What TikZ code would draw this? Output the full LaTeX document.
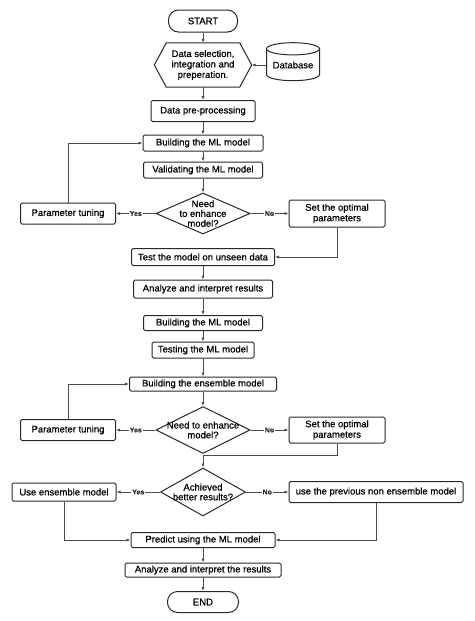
\documentclass[tikz,border=0pt]{standalone}
\usepackage{fontspec}
\setmainfont{Liberation Sans}[FakeBold=0.6]
\newfontfamily\semib{Liberation Sans}[FakeBold=0.6,UprightFont=*]
\usetikzlibrary{shapes.geometric,arrows.meta}
\definecolor{boxc}{RGB}{40,40,40}
\definecolor{linec}{RGB}{75,75,75}
\newcommand\mf{\fontsize{9.5}{10.5}\selectfont}
\newcommand\df{\fontsize{9.5}{9.8}\selectfont}
\newcommand\yf{\fontsize{7}{8}\selectfont\bfseries}
\begin{document}
\begin{tikzpicture}[x=1pt,y=-1pt,
 box/.style={draw=boxc,line width=1pt,rounded corners=1.5pt,fill=white,inner sep=0pt,align=center,font=\mf},
 term/.style={draw=boxc,line width=1pt,rounded corners=10pt,fill=white,inner sep=0pt,font=\mf},
 dec/.style={diamond,draw=boxc,line width=1pt,fill=white,inner sep=0pt},
 dtext/.style={align=center,font=\df,inner sep=0pt},
 arr/.style={draw=linec,line width=0.8pt,-{Latex[length=4pt,width=3.2pt]}},
 yn/.style={fill=white,inner sep=1pt,font=\yf,text=boxc},
]
\useasboundingbox (0,0) rectangle (474,621);
\fill[white] (0,0) rectangle (474,621);

\node[term,minimum width=69,minimum height=22] (start) at (203,21) {START};
\node[inner sep=0pt,minimum width=97,minimum height=44,align=center,font=\mf] (hex) at (203,65) {Data selection,\\integration and\\preperation.};
\draw[draw=boxc,line width=1pt] (hex.west) -- ([xshift=12pt]hex.north west) -- ([xshift=-12pt]hex.north east) -- (hex.east) -- ([xshift=-12pt]hex.south east) -- ([xshift=12pt]hex.south west) -- cycle;
\node[cylinder,shape border rotate=90,aspect=0.3,draw=boxc,line width=1pt,fill=white,minimum width=53,minimum height=38,inner sep=0pt,font=\mf] (db) at (293,65) {Database};

\node[box,minimum width=104,minimum height=21] (pre) at (203,111) {Data pre-processing};
\node[box,minimum width=120,minimum height=16] (b1) at (203,143) {Building the ML model};
\node[box,minimum width=119,minimum height=16] (v1) at (203,170) {Validating the ML model};
\node[dec,minimum width=94,minimum height=41,label={[dtext]center:{Need\\to enhance\\model?}}] (d1) at (203,213.5) {};
\node[box,minimum width=95,minimum height=21] (pt1) at (68,213.5) {Parameter tuning};
\node[box,minimum width=96,minimum height=27] (so1) at (337,213.5) {Set the optimal\\parameters};
\node[box,minimum width=143,minimum height=17] (test) at (203,257) {Test the model on unseen data};
\node[box,minimum width=139,minimum height=18] (an1) at (203,289) {Analyze and interpret results};
\node[box,minimum width=119,minimum height=15] (b2) at (203,323) {Building the ML model};
\node[box,minimum width=102,minimum height=16] (t2) at (203,350) {Testing the ML model};
\node[box,minimum width=147,minimum height=14] (ens) at (203,384) {Building the ensemble model};
\node[dec,minimum width=94,minimum height=47,label={[dtext]center:{Need to enhance\\model?}}] (d2) at (203,430) {};
\node[box,minimum width=95,minimum height=21] (pt2) at (68,430) {Parameter tuning};
\node[box,minimum width=96,minimum height=26] (so2) at (337,430) {Set the optimal\\parameters};
\node[dec,minimum width=85,minimum height=48,label={[dtext]center:{Achieved\\better results?}}] (d3) at (203,492) {};
\node[box,minimum width=104,minimum height=18] (use) at (64,492) {Use ensemble model};
\node[box,minimum width=174,minimum height=21] (prev) at (376,492) {use the previous non ensemble model};
\node[box,minimum width=144,minimum height=15] (pred) at (203,540) {Predict using the ML model};
\node[box,minimum width=156,minimum height=14] (an2) at (203,570) {Analyze and interpret the results};
\node[term,minimum width=71,minimum height=21] (end) at (203,602) {END};

\draw[arr] (start) -- (hex);
\draw[arr] (db.west) -- (hex.east);
\draw[arr] (hex) -- (pre);
\draw[arr] (pre) -- (b1);
\draw[arr] (b1) -- (v1);
\draw[arr] (v1) -- (d1);
\draw[arr] (d1) -- node[yn]{Yes} (pt1);
\draw[arr] (d1) -- node[yn]{No} (so1);
\draw[arr] (pt1.north) |- (b1.west);
\draw[arr] (so1.south) |- (test.east);
\draw[arr] (test) -- (an1);
\draw[arr] (an1) -- (b2);
\draw[arr] (b2) -- (t2);
\draw[arr] (t2) -- (ens);
\draw[arr] (ens) -- (d2);
\draw[arr] (d2) -- node[yn]{Yes} (pt2);
\draw[arr] (d2) -- node[yn]{No} (so2);
\draw[arr] (pt2.north) |- (ens.west);
\draw[arr] (so2.south) -- ++(0,12) -| (d3.north);
\draw[arr] (d3) -- node[yn]{Yes} (use);
\draw[arr] (d3) -- node[yn]{No} (prev);
\draw[arr] (use.south) |- (pred.west);
\draw[arr] (prev.south) |- (pred.east);
\draw[arr] (pred) -- (an2);
\draw[arr] (an2) -- (end);
\end{tikzpicture}
\end{document}
